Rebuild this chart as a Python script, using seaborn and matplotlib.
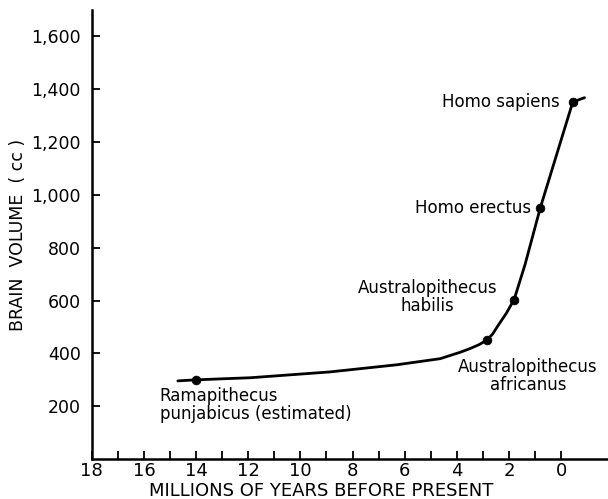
import numpy as np
import pandas as pd
import matplotlib
matplotlib.use("Agg")
import matplotlib.pyplot as plt
import seaborn as sns

# ─────────────────────────────────────────────
# Data
# ─────────────────────────────────────────────
# hand-drawn trend curve (millions of years before present, brain volume cc)
curve_myr = [14.7, 14.0, 11.9, 8.86, 6.3, 4.64, 3.88, 3.5, 3.15, 2.85,
             2.62, 2.42, 2.1, 1.8, 1.38, 0.8, -0.45, -0.9]
curve_cc  = [296, 300, 308, 330, 357, 380, 404, 418, 433, 450,
             474, 505, 552, 604, 737, 950, 1352, 1368]

# fossil species marked with dots
species_myr = [14.0, 2.85, 1.8, 0.8, -0.45]
species_cc  = [300, 450, 604, 950, 1352]

# labels: text, x, y, horizontal alignment
label_text = ["Homo sapiens", "Homo erectus", "Australopithecus\nhabilis",
              "Australopithecus\nafricanus", "Ramapithecus\npunjabicus (estimated)"]
label_x    = [0.05, 1.15, 5.12, 1.27, 15.4]
label_y    = [1352, 950, 612, 315, 205]
label_ha   = ["right", "right", "center", "center", "left"]

y_ticks  = [200, 400, 600, 800, 1000, 1200, 1400, 1600]
x_major  = [18, 16, 14, 12, 10, 8, 6, 4, 2, 0]
x_minor  = [17, 15, 13, 11, 9, 7, 5, 3, 1]

curve = pd.DataFrame({"myr": curve_myr, "cc": curve_cc})
species = pd.DataFrame({"myr": species_myr, "cc": species_cc})

# ─────────────────────────────────────────────
# Plot
# ─────────────────────────────────────────────
sns.set_style("ticks")
plt.rcParams["font.family"] = ["DejaVu Sans"]

fig = plt.figure(figsize=(6.08, 4.99), dpi=100)
ax = fig.add_axes([0.151, 0.080, 0.849, 0.900])

sns.lineplot(data=curve, x="myr", y="cc", ax=ax, color="black", lw=2,
             sort=False, estimator=None)
sns.scatterplot(data=species, x="myr", y="cc", ax=ax, color="black",
                s=40, edgecolor="black", zorder=3)

for txt, x, y, ha in zip(label_text, label_x, label_y, label_ha):
    ax.text(x, y, txt, ha=ha, va="center", fontsize=12, color="black",
            linespacing=1.0)

ax.set_xlim(18, -1.8)
ax.set_ylim(0, 1700)

ax.set_yticks(y_ticks)
ax.set_yticklabels([f"{v:,}" for v in y_ticks])
ax.set_xticks(x_major)
ax.set_xticklabels([str(v) for v in x_major])
ax.set_xticks(x_minor, minor=True)

ax.tick_params(axis="both", which="both", direction="in", length=6,
               width=1.3, colors="black")
ax.tick_params(axis="y", labelsize=12.5, pad=8)
ax.tick_params(axis="x", labelsize=13, pad=2)

for side in ("top", "right"):
    ax.spines[side].set_visible(False)
for side in ("left", "bottom"):
    ax.spines[side].set_linewidth(1.8)
    ax.spines[side].set_color("black")

ax.set_xlabel("MILLIONS OF YEARS BEFORE PRESENT", fontsize=13, color="black")
ax.xaxis.set_label_coords(0.444, -0.052)
ax.set_ylabel("BRAIN  VOLUME  ( cc )", fontsize=12.5, color="black")
ax.yaxis.set_label_coords(-0.125, 0.5)

fig.savefig("out.png", dpi=100)
plt.close(fig)
